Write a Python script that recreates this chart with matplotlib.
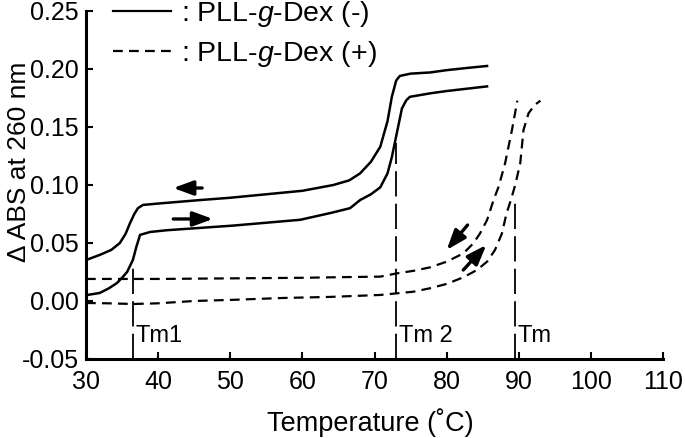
import numpy as np
import matplotlib
matplotlib.use('Agg')
import matplotlib.pyplot as plt
from matplotlib.lines import Line2D

plt.rcParams['font.family'] = ['Liberation Sans', 'DejaVu Sans']
plt.rcParams['mathtext.fontset'] = 'custom'
plt.rcParams['mathtext.it'] = 'Liberation Sans:italic'
plt.rcParams['mathtext.rm'] = 'Liberation Sans'

# solid curves: PLL-g-Dex (-), cooling (upper) and heating (lower)
t_cool = [30, 31.9, 33.5, 34.7, 35.5, 36.1, 36.7, 37.2, 37.9, 40, 45.8, 50, 55, 60, 64.3,
          66.5, 68, 69.5, 70.8, 71.8, 72.4, 73.0, 73.5, 75, 77.7, 80, 83, 85.6]
a_cool = [0.0353, 0.0397, 0.044, 0.050, 0.058, 0.067, 0.075, 0.080, 0.0828, 0.084, 0.087,
          0.089, 0.092, 0.095, 0.100, 0.104, 0.110, 0.120, 0.133, 0.155, 0.176, 0.190, 0.194,
          0.196, 0.197, 0.199, 0.201, 0.2026]
t_heat = [30, 31.9, 33.2, 34.3, 35.0, 35.7, 36.5, 37.0, 37.5, 38.9, 41.2, 50.4, 59.7, 64,
          66.6, 68, 69.5, 70.8, 71.8, 72.4, 73.1, 73.8, 74.4, 74.9, 77.7, 80, 85.6]
a_heat = [0.005, 0.0069, 0.011, 0.0155, 0.020, 0.025, 0.0353, 0.047, 0.057, 0.0595, 0.061,
          0.065, 0.070, 0.076, 0.080, 0.087, 0.092, 0.098, 0.110, 0.124, 0.145, 0.166, 0.173,
          0.176, 0.179, 0.181, 0.185]

# dashed curves: PLL-g-Dex (+)
t_cool_p = [30, 40, 50, 60, 65, 70.8, 73.1, 75.4, 77.7, 80.0, 82.3, 83.7, 84.6, 85.6, 86.5,
            87.2, 88.1, 89.05, 89.8]
a_cool_p = [0.019, 0.019, 0.0195, 0.020, 0.0205, 0.021, 0.0238, 0.026, 0.029, 0.0339, 0.041,
            0.0497, 0.058, 0.0698, 0.087, 0.0985, 0.1187, 0.1474, 0.1727]
t_heat_p = [30, 33, 36.5, 40, 45, 50.4, 57.3, 63.8, 70.8, 73.1, 75.4, 77.7, 80, 82.3, 84.2,
            85.6, 86.7, 87.65, 88.3, 88.9, 89.5, 90.2, 90.65, 91.35, 92.2, 93]
a_heat_p = [-0.0017, -0.002, -0.0026, -0.002, 0.000, 0.001, 0.0026, 0.0035, 0.0052, 0.0066,
            0.008, 0.011, 0.0147, 0.0204, 0.0267, 0.0339, 0.044, 0.058, 0.0756, 0.087, 0.100,
            0.1187, 0.1474, 0.1618, 0.169, 0.1727]

# transition temperatures
tm_names = ['Tm1', 'Tm 2', 'Tm']
tm_temps = [36.5, 73.0, 89.5]
tm_tops = [0.033, 0.136, 0.0845]

# arrows (tail -> tip)
arrows = [((46.1, 0.0974), (42.1, 0.0974)),
          ((42.1, 0.0707), (47.6, 0.0707)),
          ((82.9, 0.0655), (80.0, 0.044)),
          ((82.3, 0.0267), (85.5, 0.0483))]

fig = plt.figure(figsize=(6.85, 4.38), dpi=100)
ax = fig.add_axes([0.1255, 0.1804, 0.8425, 0.7945])

lw = 1.8
dash = (0, (4.4, 2.8))
ax.plot(t_cool, a_cool, color='k', lw=lw)
ax.plot(t_heat, a_heat, color='k', lw=lw)
ax.plot(t_cool_p, a_cool_p, color='k', lw=1.6, linestyle=dash)
ax.plot(t_heat_p, a_heat_p, color='k', lw=1.6, linestyle=dash)

ymin, ymax = -0.05, 0.25
for name, t, top in zip(tm_names, tm_temps, tm_tops):
    ax.vlines(t, ymin, top, color='k', lw=1.3, linestyles=[(0, (14, 4))])
    ax.text(t + 0.35, -0.0353, name, fontsize=17, ha='left', va='baseline')

for tail, tip in arrows:
    ax.annotate('', xy=tip, xytext=tail,
                arrowprops=dict(arrowstyle='-|>,head_length=0.6,head_width=0.22',
                                color='k', lw=2.4, mutation_scale=20,
                                shrinkA=0, shrinkB=0))

ax.set_xlim(30, 110)
ax.set_ylim(ymin, ymax)
ax.set_xticks(np.arange(30, 111, 10))
ax.set_yticks(np.arange(-0.05, 0.251, 0.05))
ax.set_yticklabels(['-0.05', '0.00', '0.05', '0.10', '0.15', '0.20', '0.25'])
ax.tick_params(direction='in', length=5, width=1.5, labelsize=18)
ax.tick_params(axis='y', pad=5)
ax.tick_params(axis='x', pad=8)
for s in ['top', 'right']:
    ax.spines[s].set_visible(False)
for s in ['left', 'bottom']:
    ax.spines[s].set_linewidth(2.2)

ax.set_xlabel('Temperature (˚C)', fontsize=19.5)
ax.set_ylabel('Δ\u2009ABS at 260 nm', fontsize=19)
ax.xaxis.set_label_coords(0.493, -0.14)
ax.yaxis.set_label_coords(-0.095, 0.567)

handles = [Line2D([], [], color='k', lw=1.6),
           Line2D([], [], color='k', lw=1.6, linestyle=dash)]
labels = [': PLL-$\\it{g}$-Dex (-)', ': PLL-$\\it{g}$-Dex (+)']
ax.legend(handles, labels, loc='upper left', bbox_to_anchor=(0.047, 1.035),
          frameon=False, fontsize=20.5, handlelength=2.05, handletextpad=0.35,
          borderpad=0, borderaxespad=0, labelspacing=0.36)

fig.savefig('out.png', dpi=100)
